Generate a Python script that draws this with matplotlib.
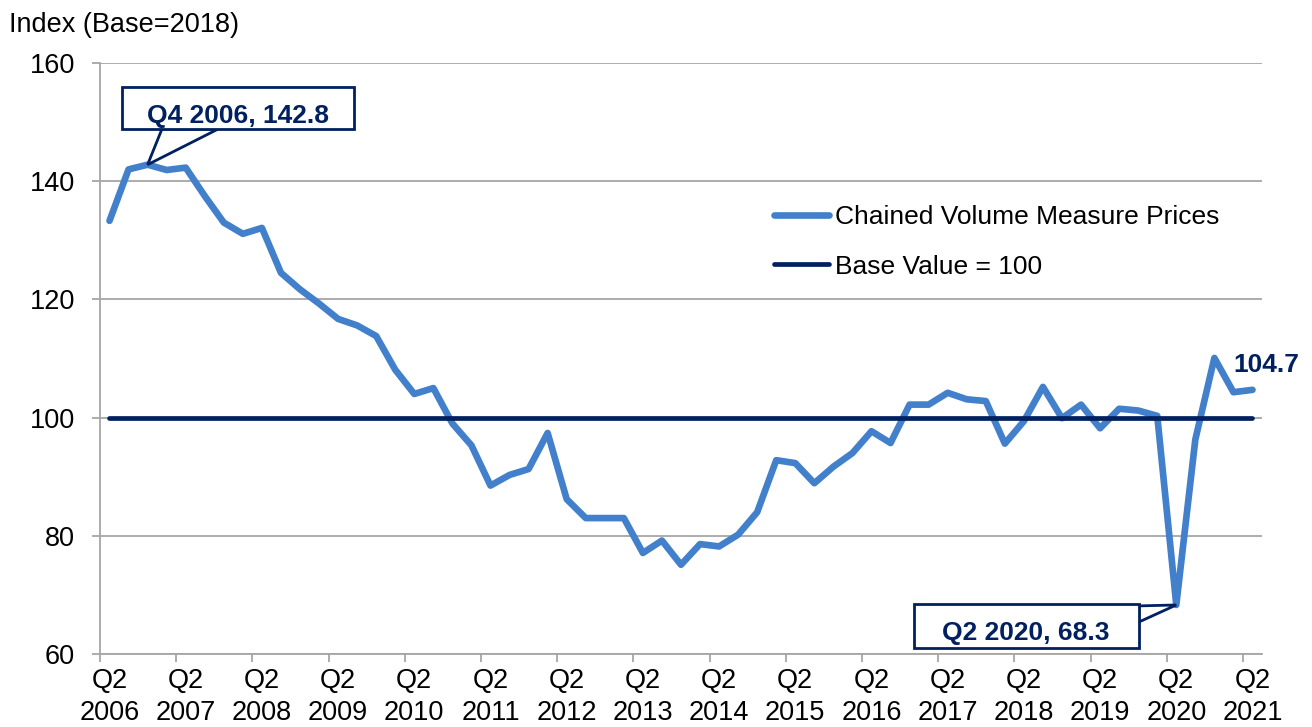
import numpy as np
import matplotlib.pyplot as plt
from matplotlib.patches import Rectangle, Polygon

plt.rcParams['font.family'] = ['Liberation Sans', 'DejaVu Sans']

# quarterly index, Q2 2006 .. Q2 2021
quarters = [f"Q{(q % 4) + 1} {2006 + q // 4}" for q in range(1, 62)]
cvm_prices = [133.3, 142.0, 142.8, 141.9, 142.3, 137.5, 133.0, 131.1, 132.1, 124.5,
              121.7, 119.3, 116.7, 115.6, 113.8, 108.1, 104.0, 105.0, 99.0, 95.3,
              88.5, 90.3, 91.3, 97.4, 86.2, 83.0, 83.0, 83.0, 77.1, 79.2,
              75.1, 78.6, 78.2, 80.2, 84.0, 92.8, 92.3, 88.9, 91.7, 94.0,
              97.7, 95.7, 102.2, 102.2, 104.2, 103.1, 102.8, 95.6, 99.4, 105.2,
              99.9, 102.2, 98.2, 101.5, 101.2, 100.3, 68.3, 96.3, 110.1, 104.3,
              104.7]
base_value = 100
tick_labels = [f"Q2\n{y}" for y in range(2006, 2022)]

blue = '#4280CC'
navy = '#002060'
grey = '#A6A6A6'

x = np.arange(len(cvm_prices))

fig = plt.figure(figsize=(13.12, 7.27), dpi=100)
ax = fig.add_axes([0.0762, 0.1004, 0.8857, 0.8129])

ax.plot(x, cvm_prices, color=blue, lw=4.8, solid_capstyle='round', solid_joinstyle='round',
        label='Chained Volume Measure Prices', zorder=3)
ax.plot(x, np.full(len(x), base_value), color=navy, lw=3.4, solid_capstyle='round',
        label='Base Value = 100', zorder=4)

ax.set_xlim(-0.5, len(x) - 0.5)
ax.set_ylim(60, 160)
ax.set_yticks(np.arange(60, 161, 20))
ax.grid(axis='y', color=grey, lw=1.3)
ax.set_axisbelow(True)

ax.set_xticks(np.arange(-0.5, len(x), 4))
ax.set_xticklabels([])
ax.set_xticks(np.arange(0, len(x), 4), minor=True)
ax.set_xticklabels(tick_labels, minor=True, linespacing=1.3)
ax.tick_params(axis='x', which='major', length=6, width=1.3, color=grey, direction='out')
ax.tick_params(axis='x', which='minor', length=0, pad=10, labelsize=19.5)
ax.tick_params(axis='y', length=6, width=1.3, color=grey, labelsize=19.5, pad=12)

for s in ['top', 'right']:
    ax.spines[s].set_visible(False)
for s in ['left', 'bottom']:
    ax.spines[s].set_color(grey)
    ax.spines[s].set_linewidth(1.3)

fig.text(0.007, 0.966, 'Index (Base=2018)', fontsize=19.5, va='center', ha='left')


# callout box with a wedge pointer, all in data units
def callout(label, tip, box_x, box_y, base, text_xy):
    ax.add_patch(Polygon([base[0], base[1], tip], closed=True, fc='white', ec=navy,
                         lw=2, zorder=6, clip_on=False))
    ax.add_patch(Rectangle((box_x[0], box_y[0]), box_x[1] - box_x[0], box_y[1] - box_y[0],
                           fc='white', ec=navy, lw=2, zorder=7, clip_on=False))
    ax.text(text_xy[0], text_xy[1], label, ha='center', va='center', fontsize=19,
            fontweight='bold', color=navy, zorder=8)


i_max = int(np.argmax(cvm_prices))
i_min = int(np.argmin(cvm_prices))
callout(f"{quarters[i_max]}, {cvm_prices[i_max]}", (i_max, cvm_prices[i_max]),
        (0.655, 12.83), (148.81, 155.93), [(2.75, 148.81), (5.69, 148.81)], (6.74, 151.1))
callout(f"{quarters[i_min]}, {cvm_prices[i_min]}", (i_min, cvm_prices[i_min]),
        (42.23, 54.04), (61.02, 68.47), [(54.04, 68.14), (54.04, 65.42)], (48.11, 63.6))

ax.annotate(f"{cvm_prices[-1]}", xy=(x[-1], cvm_prices[-1]), xytext=(10, 18),
            textcoords='offset points', ha='center', va='center', fontsize=19,
            fontweight='bold', color=navy, annotation_clip=False)

ax.legend(loc='upper left', bbox_to_anchor=(0.56, 0.80), frameon=False, fontsize=19,
          handlelength=2.08, handletextpad=0.23, labelspacing=0.97)

fig.savefig('out.png', dpi=100)
